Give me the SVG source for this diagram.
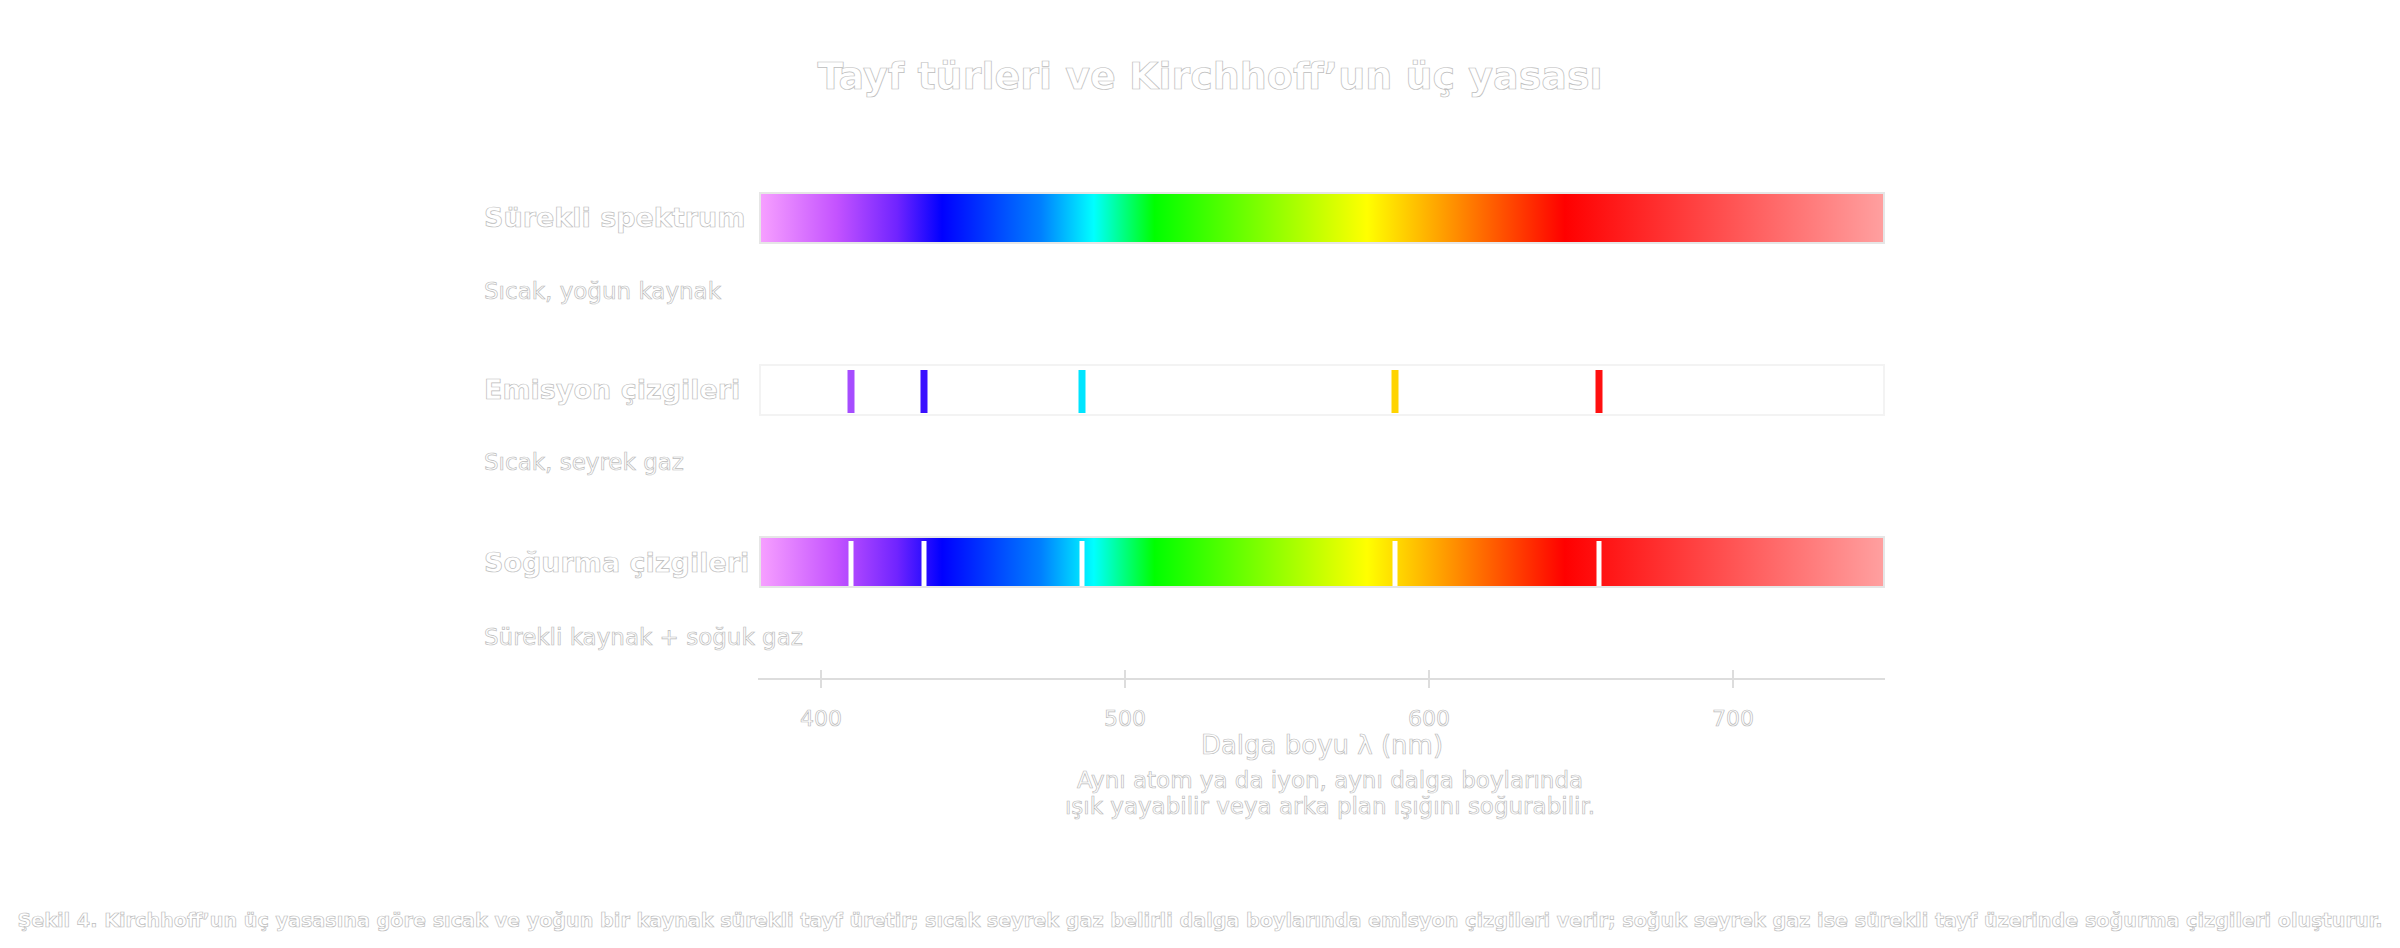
<svg xmlns="http://www.w3.org/2000/svg" width="2400" height="948" viewBox="0 0 2400 948">
<defs>
<linearGradient id="spec" x1="0" y1="0" x2="1" y2="0">
<stop offset="0" stop-color="#f7a0ff"/>
<stop offset="0.068" stop-color="#c453ff"/>
<stop offset="0.122" stop-color="#7024ff"/>
<stop offset="0.162" stop-color="#0000ff"/>
<stop offset="0.25" stop-color="#0080ff"/>
<stop offset="0.297" stop-color="#00ffff"/>
<stop offset="0.351" stop-color="#00ff00"/>
<stop offset="0.54" stop-color="#ffff00"/>
<stop offset="0.62" stop-color="#ff8c00"/>
<stop offset="0.716" stop-color="#ff0000"/>
<stop offset="1" stop-color="#ffa0a0"/>
</linearGradient>
</defs>
<style>
text{font-family:"DejaVu Sans",Verdana,sans-serif;fill:#ffffff;stroke:#bcbcbc;stroke-width:0.7px}
.title{font-size:38px;font-weight:bold;text-anchor:middle}
.lab{font-size:27px;font-weight:bold}
.sub{font-size:23px}
.tick{font-size:22px;text-anchor:middle}
.axt{font-size:26px;text-anchor:middle}
.cap{font-size:23px;text-anchor:middle}
.foot{font-size:19.2px;font-weight:bold;text-anchor:middle}
.bar{stroke:#e6e6e6;stroke-width:2}
.axis{stroke:#dddddd;stroke-width:2;fill:none}
.ab{stroke:#ffffff;stroke-width:5}
.em{stroke-width:7}
</style>
<text class="title" x="1210" y="89">Tayf türleri ve Kirchhoff’un üç yasası</text>

<g id="row-continuous">
<text class="lab" x="484" y="227">Sürekli spektrum</text>
<rect class="bar" x="760" y="193" width="1124" height="50" fill="url(#spec)"/>
<text class="sub" x="484" y="299">Sıcak, yoğun kaynak</text>
</g>

<g id="row-emission">
<text class="lab" x="484" y="399">Emisyon çizgileri</text>
<rect x="760" y="365" width="1124" height="50" fill="#ffffff" stroke="#f3f3f3" stroke-width="2"/>
<line class="em" x1="851" y1="370" x2="851" y2="413" stroke="#a64dff"/>
<line class="em" x1="924" y1="370" x2="924" y2="413" stroke="#3a10ff"/>
<line class="em" x1="1082" y1="370" x2="1082" y2="413" stroke="#00e5ff"/>
<line class="em" x1="1395" y1="370" x2="1395" y2="413" stroke="#ffd400"/>
<line class="em" x1="1599" y1="370" x2="1599" y2="413" stroke="#ff1010"/>
<text class="sub" x="484" y="470">Sıcak, seyrek gaz</text>
</g>

<g id="row-absorption">
<text class="lab" x="484" y="572">Soğurma çizgileri</text>
<rect class="bar" x="760" y="537" width="1124" height="50" fill="url(#spec)"/>
<line class="ab" x1="851" y1="541" x2="851" y2="586"/>
<line class="ab" x1="924" y1="541" x2="924" y2="586"/>
<line class="ab" x1="1082" y1="541" x2="1082" y2="586"/>
<line class="ab" x1="1395" y1="541" x2="1395" y2="586"/>
<line class="ab" x1="1599" y1="541" x2="1599" y2="586"/>
<text class="sub" x="484" y="645">Sürekli kaynak + soğuk gaz</text>
</g>

<g id="axis">
<line class="axis" x1="758" y1="679" x2="1885" y2="679"/>
<line class="axis" x1="821" y1="670" x2="821" y2="688"/>
<line class="axis" x1="1125" y1="670" x2="1125" y2="688"/>
<line class="axis" x1="1429" y1="670" x2="1429" y2="688"/>
<line class="axis" x1="1733" y1="670" x2="1733" y2="688"/>
<text class="tick" x="821" y="726">400</text>
<text class="tick" x="1125" y="726">500</text>
<text class="tick" x="1429" y="726">600</text>
<text class="tick" x="1733" y="726">700</text>
<text class="axt" x="1322" y="754">Dalga boyu λ (nm)</text>
</g>

<g id="note">
<text class="cap" x="1330" y="788">Aynı atom ya da iyon, aynı dalga boylarında</text>
<text class="cap" x="1330" y="814">ışık yayabilir veya arka plan ışığını soğurabilir.</text>
</g>

<text class="foot" x="1200" y="927">Şekil 4. Kirchhoff’un üç yasasına göre sıcak ve yoğun bir kaynak sürekli tayf üretir; sıcak seyrek gaz belirli dalga boylarında emisyon çizgileri verir; soğuk seyrek gaz ise sürekli tayf üzerinde soğurma çizgileri oluşturur.</text>
</svg>
